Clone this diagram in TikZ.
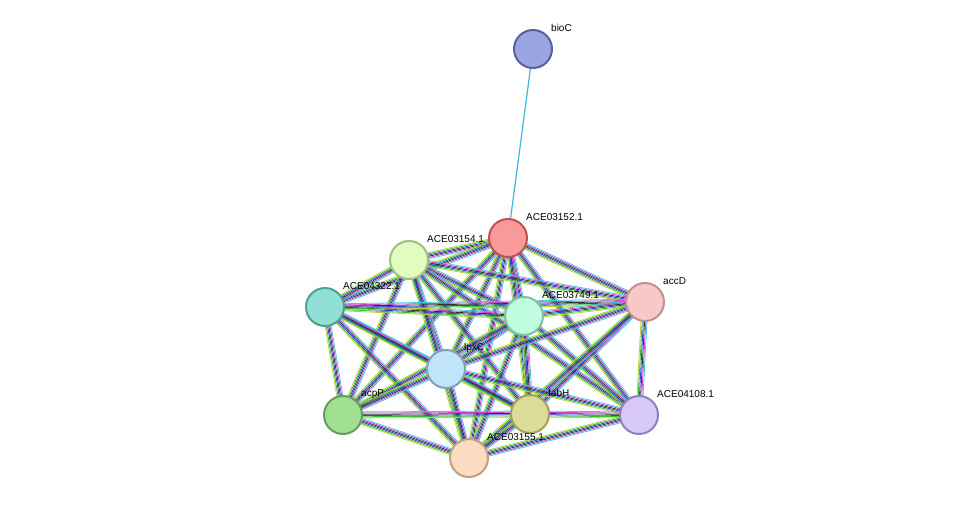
\documentclass[tikz,border=0pt]{standalone}
\usepackage{fontspec}
\setmainfont{Liberation Sans}
\usetikzlibrary{backgrounds,calc}
\definecolor{cB}{HTML}{9BA6E0}\definecolor{sB}{HTML}{5560A0}
\definecolor{c52}{HTML}{F99A9A}\definecolor{s52}{HTML}{C05050}
\definecolor{c54}{HTML}{E0FCC0}\definecolor{s54}{HTML}{A0C080}
\definecolor{c22}{HTML}{90E0D8}\definecolor{s22}{HTML}{50A090}
\definecolor{c49}{HTML}{C0FCE0}\definecolor{s49}{HTML}{80C0A0}
\definecolor{cD}{HTML}{F8C8C8}\definecolor{sD}{HTML}{C09090}
\definecolor{cL}{HTML}{C0E4F8}\definecolor{sL}{HTML}{80A0C0}
\definecolor{cP}{HTML}{A0E090}\definecolor{sP}{HTML}{60A060}
\definecolor{cH}{HTML}{DCDC98}\definecolor{sH}{HTML}{A0A060}
\definecolor{c08}{HTML}{D8C8F8}\definecolor{s08}{HTML}{9080C0}
\definecolor{c55}{HTML}{FCDCC0}\definecolor{s55}{HTML}{C0A080}
\definecolor{eY}{HTML}{B8D430}\definecolor{eG}{HTML}{30C030}
\definecolor{eB}{HTML}{3040E0}\definecolor{eM}{HTML}{D040D0}
\definecolor{eK}{HTML}{303030}\definecolor{eC}{HTML}{40C8E0}
\tikzset{
  prot/.style={circle,minimum size=38pt,inner sep=0,line width=2pt},
  lab/.style={anchor=west,font=\fontsize{10}{11}\selectfont,inner sep=0},
  ed/.style={line width=0.8pt},
}
\newcommand{\mybundle}[2]{%
  \foreach \o/\c in {-3.0/eY,-1.8/eG,-0.6/eB,0.6/eK,1.8/eM,3.0/eC}{
    \draw[ed,draw=\c] ($(#1)!\o pt!90:(#2)$) -- ($(#2)!\o pt!-90:(#1)$);}}
\begin{document}
\begin{tikzpicture}[x=1pt,y=-1pt]
\useasboundingbox (0,0) rectangle (976,504);
\def\N#1#2#3#4#5#6{\node[prot,fill=#4,draw=#5] (#1) at (#2,#3) {};
  \node[lab] (l#1) at (#2+18,#3-21) {#6};}
\N{bioC}{533}{49}{cB}{sB}{bioC}
\N{a52}{508}{238}{c52}{s52}{ACE03152.1}
\N{a54}{409}{260}{c54}{s54}{ACE03154.1}
\N{a22}{325}{307}{c22}{s22}{ACE04322.1}
\N{a49}{524}{316}{c49}{s49}{ACE03749.1}
\N{accD}{645}{302}{cD}{sD}{accD}
\N{lpxC}{446}{369}{cL}{sL}{lpxC}
\N{acpP}{343}{415}{cP}{sP}{acpP}
\N{fabH}{530}{414}{cH}{sH}{fabH}
\N{a08}{639}{415}{c08}{s08}{ACE04108.1}
\N{a55}{469}{458}{c55}{s55}{ACE03155.1}
\begin{scope}[on background layer]
\draw[line width=1.2pt,draw=eC!90!blue] (bioC)--(a52);
\foreach \a/\b in {a52/a54,a52/a22,a52/a49,a52/accD,a52/lpxC,a52/acpP,a52/fabH,a52/a08,a52/a55,
 a54/a22,a54/a49,a54/accD,a54/lpxC,a54/acpP,a54/fabH,a54/a08,a54/a55,
 a22/a49,a22/accD,a22/lpxC,a22/acpP,a22/fabH,a22/a55,
 a49/accD,a49/lpxC,a49/acpP,a49/fabH,a49/a08,a49/a55,
 accD/lpxC,accD/fabH,accD/a08,accD/a55,
 lpxC/acpP,lpxC/fabH,lpxC/a08,lpxC/a55,
 acpP/fabH,acpP/a55,fabH/a08,fabH/a55,a08/a55}
 {\mybundle{\a}{\b}}
\end{scope}
\end{tikzpicture}
\end{document}
